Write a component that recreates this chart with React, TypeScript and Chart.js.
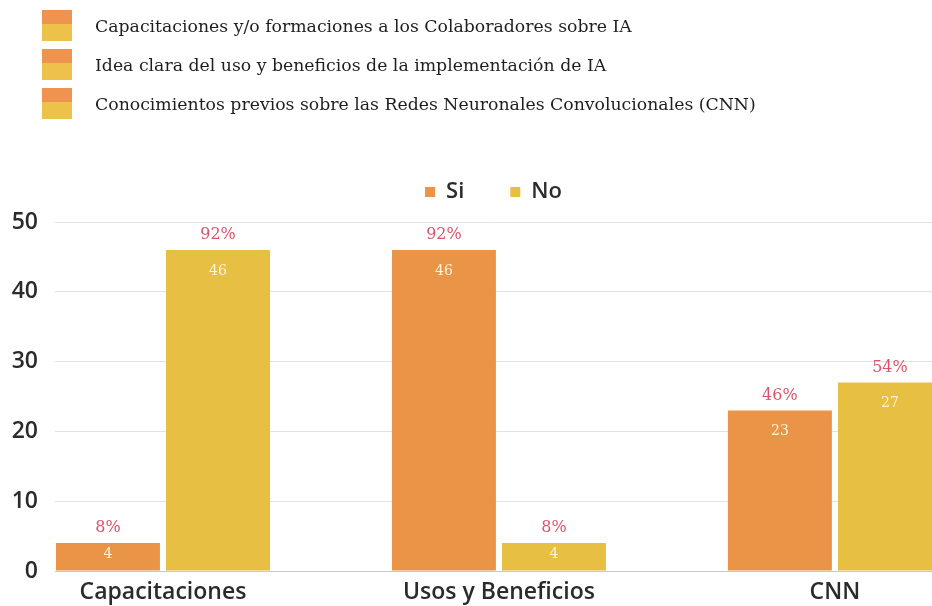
import React, { useEffect, useRef } from "react";
import { Chart, registerables } from "chart.js";

Chart.register(...registerables);

const categories = ["Capacitaciones", "Usos y Beneficios", "CNN"];
const seriesNames = ["Si", "No"];
const siValues = [4, 46, 23];
const noValues = [46, 4, 27];
const yTicks = [0, 10, 20, 30, 40, 50];
const topLegendItems = [
  "Capacitaciones y/o formaciones a los Colaboradores sobre IA",
  "Idea clara del uso y beneficios de la implementación de IA",
  "Conocimientos previos sobre las Redes Neuronales Convolucionales (CNN)",
];

const ORANGE = "#EA9448";
const YELLOW = "#E6BF43";
const SANS = "'Open Sans', 'Noto Sans', sans-serif";
const SERIF = "'DejaVu Serif', serif";

const labelPlugin = {
  id: "barLabels",
  afterDatasetsDraw(chart: any) {
    const ctx = chart.ctx;
    const totals = categories.map((_, i) => siValues[i] + noValues[i]);
    ctx.save();
    ctx.textAlign = "center";
    ctx.textBaseline = "middle";
    chart.data.datasets.forEach((ds: any, di: number) => {
      const meta = chart.getDatasetMeta(di);
      meta.data.forEach((bar: any, i: number) => {
        const v = ds.data[i].y;
        const top = bar.y;
        const base = bar.base;
        const pct = Math.round((v / totals[i]) * 100);
        ctx.font = `16px ${SERIF}`;
        ctx.fillStyle = "#D8566D";
        ctx.fillText(pct + "%", bar.x, top - 15);
        ctx.font = `14px ${SERIF}`;
        ctx.fillStyle = "#FFF3D8";
        const vy = Math.min(top + 21, (top + base) / 2 - 2);
        ctx.fillText(String(v), bar.x, vy);
      });
    });
    ctx.restore();
  },
};

export default function App() {
  const ref = useRef<HTMLCanvasElement | null>(null);

  useEffect(() => {
    if (!ref.current) return;
    const chart = new Chart(ref.current, {
      type: "bar",
      data: {
        datasets: [
          {
            label: seriesNames[0],
            data: siValues.map((v, i) => ({ x: i, y: v })),
            backgroundColor: ORANGE,
            barPercentage: 0.945,
            categoryPercentage: 0.655,
          },
          {
            label: seriesNames[1],
            data: noValues.map((v, i) => ({ x: i, y: v })),
            backgroundColor: YELLOW,
            barPercentage: 0.945,
            categoryPercentage: 0.655,
          },
        ],
      },
      options: {
        responsive: false,
        animation: false,
        devicePixelRatio: 1,
        layout: { padding: { top: 135, left: 0, right: 0, bottom: 0 } },
        plugins: {
          legend: {
            display: true,
            position: "top",
            fullSize: false,
            labels: {
              boxWidth: 10,
              boxHeight: 10,
              padding: 46,
              color: "#2b2b2b",
              font: { family: SANS, size: 22, weight: "600" },
            },
          },
          title: {
            display: true,
            text: "",
            position: "top",
            weight: 500,
            padding: 0,
            font: { size: 9, lineHeight: 1 },
          },
          tooltip: { enabled: false },
        },
        scales: {
          x: {
            type: "linear",
            min: -0.3214,
            max: 2.289,
            offset: false,
            grid: { display: false, drawTicks: false },
            border: { display: true, color: "#c9c9c9" },
            afterBuildTicks: (scale: any) => {
              scale.ticks = categories.map((_, i) => ({ value: i }));
            },
            afterFit: (scale: any) => {
              scale.height = 35;
            },
            ticks: {
              autoSkip: false,
              maxRotation: 0,
              padding: 8,
              color: "#2b2b2b",
              font: { family: SANS, size: 23, weight: "600" },
              callback: (v: any) => categories[Math.round(Number(v))] ?? "",
            },
          },
          y: {
            min: yTicks[0],
            max: yTicks[yTicks.length - 1],
            afterBuildTicks: (scale: any) => {
              scale.ticks = yTicks.map((v) => ({ value: v }));
            },
            afterFit: (scale: any) => {
              scale.width = 55;
            },
            grid: { color: "#e2e2e2", drawTicks: false },
            border: { display: false },
            ticks: {
              padding: 17,
              color: "#2b2b2b",
              font: { family: SANS, size: 23, weight: "600" },
            },
          },
        },
      },
      plugins: [labelPlugin],
    });
    return () => chart.destroy();
  }, []);

  return (
    <div
      style={{
        position: "fixed",
        left: 0,
        top: 0,
        width: 932,
        height: 606,
        overflow: "hidden",
        background: "#ffffff",
      }}
    >
      <canvas
        ref={ref}
        width={932}
        height={606}
        style={{ position: "absolute", left: 0, top: 0, width: 932, height: 606 }}
      />
      {topLegendItems.map((t, i) => (
        <div
          key={i}
          style={{
            position: "absolute",
            left: 42,
            top: 10 + i * 39,
            height: 31,
            display: "flex",
            alignItems: "center",
          }}
        >
          <div
            style={{
              width: 30,
              height: 31,
              background: `linear-gradient(to bottom, #EE9450 0%, #EE9450 45%, #EDC24A 45%, #EDC24A 100%)`,
            }}
          />
          <span
            style={{
              marginLeft: 23,
              fontFamily: SERIF,
              fontSize: 17.3,
              color: "#1e1e1e",
              whiteSpace: "nowrap",
            }}
          >
            {t}
          </span>
        </div>
      ))}
    </div>
  );
}
